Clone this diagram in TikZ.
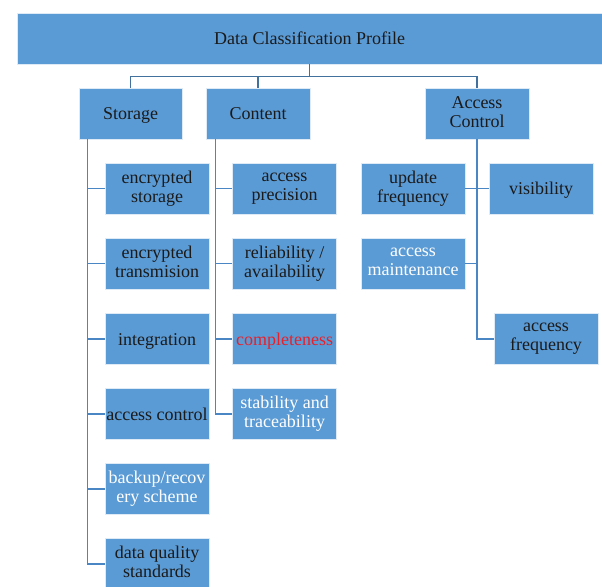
\documentclass[tikz,border=0pt]{standalone}
\usepackage{fontspec}
\setmainfont{Liberation Serif}
\newfontfamily\tnr{Liberation Serif}
\usetikzlibrary{calc}
\definecolor{boxblue}{HTML}{5B9BD5}
\definecolor{lineblue}{HTML}{4A85C4}
\definecolor{busblue}{HTML}{41719C}
\definecolor{redtxt}{HTML}{E8202A}
\definecolor{darktxt}{HTML}{1A1A1A}
\newcommand\wordstrut{\rule[-2.9pt]{0pt}{14.9pt}}
\begin{document}
\begin{tikzpicture}[x=0.75pt,y=-0.75pt,
 box/.style={rectangle, fill=boxblue, draw=white!80!boxblue, line width=0.6pt, minimum width=78pt, minimum height=38.25pt, inner sep=0pt, align=center, font=\tnr\fontsize{13.5}{14.25}\selectfont, text=darktxt, execute at begin node=\wordstrut, execute at end node=\wordstrut},
 wtxt/.style={text=white},
 conn/.style={draw=lineblue, line width=1.1pt},
 bus/.style={draw=busblue, line width=1.1pt}]
\useasboundingbox (0,0) rectangle (602,586);
% header
\node[box, minimum width=438.75pt] (top) at (309.5,38.5) {Data Classification Profile};
% level 1
\node[box, minimum width=77.25pt] (storage) at (130.5,113.5) {Storage};
\node[box] (content) at (258,113.5) {Content};
\node[box] (ac) at (477,113.5) {Access\\Control};
% storage children
\node[box] (s1) at (157,188.5) {encrypted\\storage};
\node[box] (s2) at (157,263.5) {encrypted\\transmision};
\node[box] (s3) at (157,339) {integration};
\node[box] (s4) at (157,414) {access control};
\node[box, wtxt] (s5) at (157,489) {backup/recov\\ery scheme};
\node[box] (s6) at (157,564) {data quality\\standards};
% content children
\node[box] (c1) at (284.5,188.5) {access\\precision};
\node[box] (c2) at (284.5,263.5) {reliability /\\availability};
\node[box, text=redtxt] (c3) at (284.5,339) {completeness};
\node[box, wtxt] (c4) at (284.5,414) {stability and\\traceability};
% access control children
\node[box] (a1) at (413,188.5) {update\\frequency};
\node[box] (a2) at (541,188.5) {visibility};
\node[box, wtxt] (a3) at (413,263.5) {access\\maintenance};
\node[box] (a4) at (546,339) {access\\frequency};
% bus
\draw[bus] (top.south) -- ++(0,12) -| (storage.north);
\draw[bus] (top.south) -- ++(0,12) -| (content.north);
\draw[bus] (top.south) -- ++(0,12) -| (ac.north);
% storage connectors
\coordinate (sv) at ($(storage.south west)+(9,0)$);
\foreach \n in {s1,s2,s3,s4,s5,s6} \draw[conn] (sv) |- (\n.west);
% content connectors
\coordinate (cv) at ($(content.south west)+(10,0)$);
\foreach \n in {c1,c2,c3,c4} \draw[conn] (cv) |- (\n.west);
% access control connectors
\draw[conn] (ac.south) |- (a4.west);
\draw[conn] (a1.east) -- (a2.west);
\draw[conn] (ac.south) |- (a3.east);
\end{tikzpicture}
\end{document}
